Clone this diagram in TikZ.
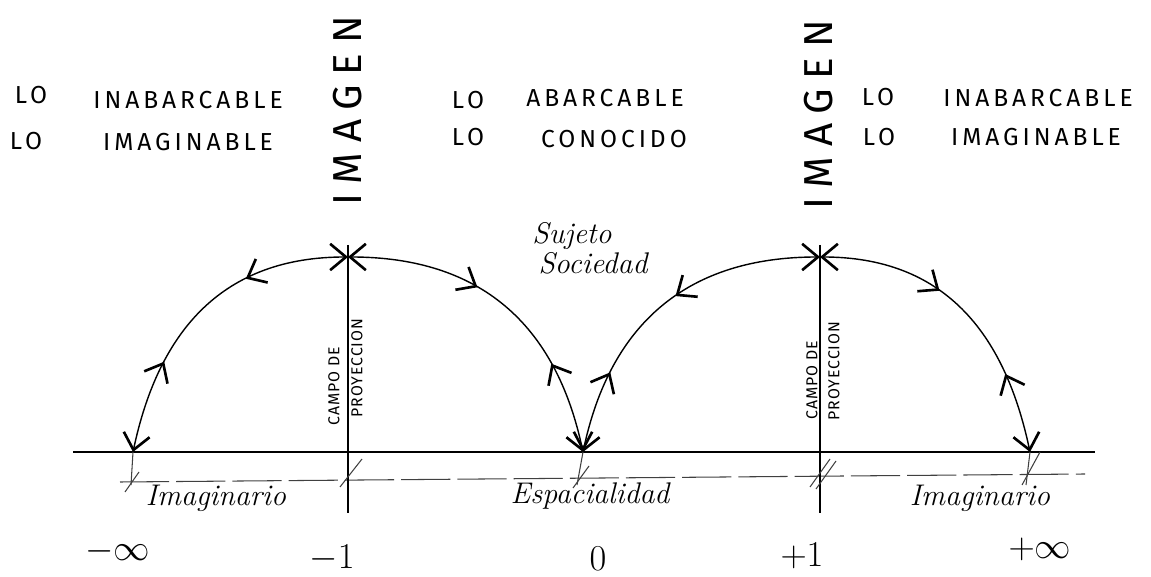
\documentclass[tikz,border=0pt]{standalone}
\usepackage{fontspec}
\newfontfamily\handcaps[LetterSpace=16]{Fira Sans}
\newfontfamily\handtall[LetterSpace=24]{Fira Sans}
\newfontfamily\handsmall[LetterSpace=6]{Fira Sans}
\usetikzlibrary{arrows.meta,decorations.markings,positioning}

\begin{document}
\begin{tikzpicture}[
    x=0.02cm, y=0.02cm,
    caps/.style={font=\handcaps\fontsize{14}{16}\selectfont, inner sep=0pt},
    tall/.style={font=\handtall\fontsize{23}{25}\selectfont, rotate=90, inner sep=0pt},
    field/.style={font=\handsmall\fontsize{9}{10}\selectfont, rotate=90, inner sep=0pt},
    script/.style={font=\itshape\fontsize{17}{19}\selectfont, inner sep=0pt},
    num/.style={font=\fontsize{20}{22}\selectfont, inner sep=0pt},
    axis/.style={line width=1pt},
    proj/.style={line width=0.8pt},
    ground/.style={line width=0.6pt, black!75, dash pattern=on 28pt off 4pt},
    tick/.style={line width=0.6pt, black!75},
    barb/.tip={Straight Barb[length=9pt,width=15pt,line width=1.5pt]},
    flow/.style={line width=0.8pt, {barb}-{barb}},
    midflow/.style 2 args={postaction=decorate, decoration={markings,
        mark=at position #1 with {\arrow{barb}},
        mark=at position #2 with {\arrowreversed{barb}}}}
  ]
  \useasboundingbox (0,0) rectangle (1151,577);

  % points on the line
  \coordinate (minf) at (133,125);
  \coordinate (zero) at (583,125);
  \coordinate (pinf) at (1030,125);
  \coordinate (topL) at (348,320);
  \coordinate (topR) at (820,320);
  \coordinate (lineW) at (73,125);
  \coordinate (lineE) at (1095,125);
  \coordinate (groundW) at (120,95);
  \coordinate (groundE) at (1085,103);
  \coordinate (projLtop) at (348,332);
  \coordinate (projLbot) at (348,64);
  \coordinate (projRtop) at (820,332);
  \coordinate (projRbot) at (820,64);

  % lines
  \draw[axis] (lineW) -- (lineE);
  \draw[ground] (groundW) -- (groundE);
  \draw[proj] (projLtop) -- (projLbot);
  \draw[proj] (projRtop) -- (projRbot);

  % arcs
  \draw[flow, midflow={0.33}{0.7}] (topL) to[out=180, in=78, looseness=1.1] (minf);
  \draw[flow, midflow={0.4}{0.72}] (topL) to[out=0, in=102, looseness=1.1] (zero);
  \draw[flow, midflow={0.45}{0.75}] (topR) to[out=180, in=78, looseness=1.1] (zero);
  \draw[flow, midflow={0.4}{0.74}] (topR) to[out=0, in=102, looseness=1.1] (pinf);

  % ticks down to the ground line
  \draw[tick] (minf) -- ++(-2,-33);
  \draw[tick] (minf) ++(-8,-40) -- ++(14,20);
  \draw[tick] (zero) -- ++(-6,-33);
  \draw[tick] (zero) ++(-10,-36) -- ++(16,22);
  \draw[tick] (pinf) -- ++(-4,-33);
  \draw[tick] (pinf) ++(10,0) -- ++(-18,-33);
  \draw[tick] (projLbot) ++(-8,26) -- ++(22,28);
  \draw[tick] (projRbot) ++(-10,26) -- ++(20,28);
  \draw[tick] (projRbot) ++(-4,24) -- ++(20,28);

  % upper texts
  \node[caps] (loA) at (31,482) {LO};
  \node[caps] (inabA) at (188,477) {INABARCABLE};
  \node[caps] (loB) at (26,436) {LO};
  \node[caps] (imagA) at (188,435) {IMAGINABLE};
  \node[caps] (loC) at (468,477) {LO};
  \node[caps] (abar) at (605,479) {ABARCABLE};
  \node[caps] (loD) at (468,440) {LO};
  \node[caps] (cono) at (614,438) {CONOCIDO};
  \node[caps] (loE) at (878,480) {LO};
  \node[caps] (inabB) at (1038,479) {INABARCABLE};
  \node[caps] (loF) at (879,440) {LO};
  \node[caps] (imagB) at (1036,440) {IMAGINABLE};

  \node[tall] (imgL) at (348,466) {IMAGEN};
  \node[tall] (imgR) at (819,462) {IMAGEN};

  % projection field
  \node[field] (campoL) at (334,191) {CAMPO DE};
  \node[field] (proyL) at (357,209) {PROYECCION};
  \node[field] (campoR) at (812,197) {CAMPO DE};
  \node[field] (proyR) at (834,206) {PROYECCION};

  \node[script] (sujeto) at (572,341) {Sujeto};
  \node[script] (socie) at (593,314) {Sociedad};

  % lower texts
  \node[script] (imaginL) at (216,79) {Imaginario};
  \node[script] (espac) at (590,81) {Espacialidad};
  \node[script] (imaginR) at (980,79) {Imaginario};

  \node[num] (nminf) at (118,26) {$-\infty$};
  \node[num] (nmone) at (332,19) {$-1$};
  \node[num] (nzero) at (598,18) {$0$};
  \node[num] (npone) at (802,21) {$+1$};
  \node[num] (npinf) at (1040,28) {$+\infty$};
\end{tikzpicture}
\end{document}
